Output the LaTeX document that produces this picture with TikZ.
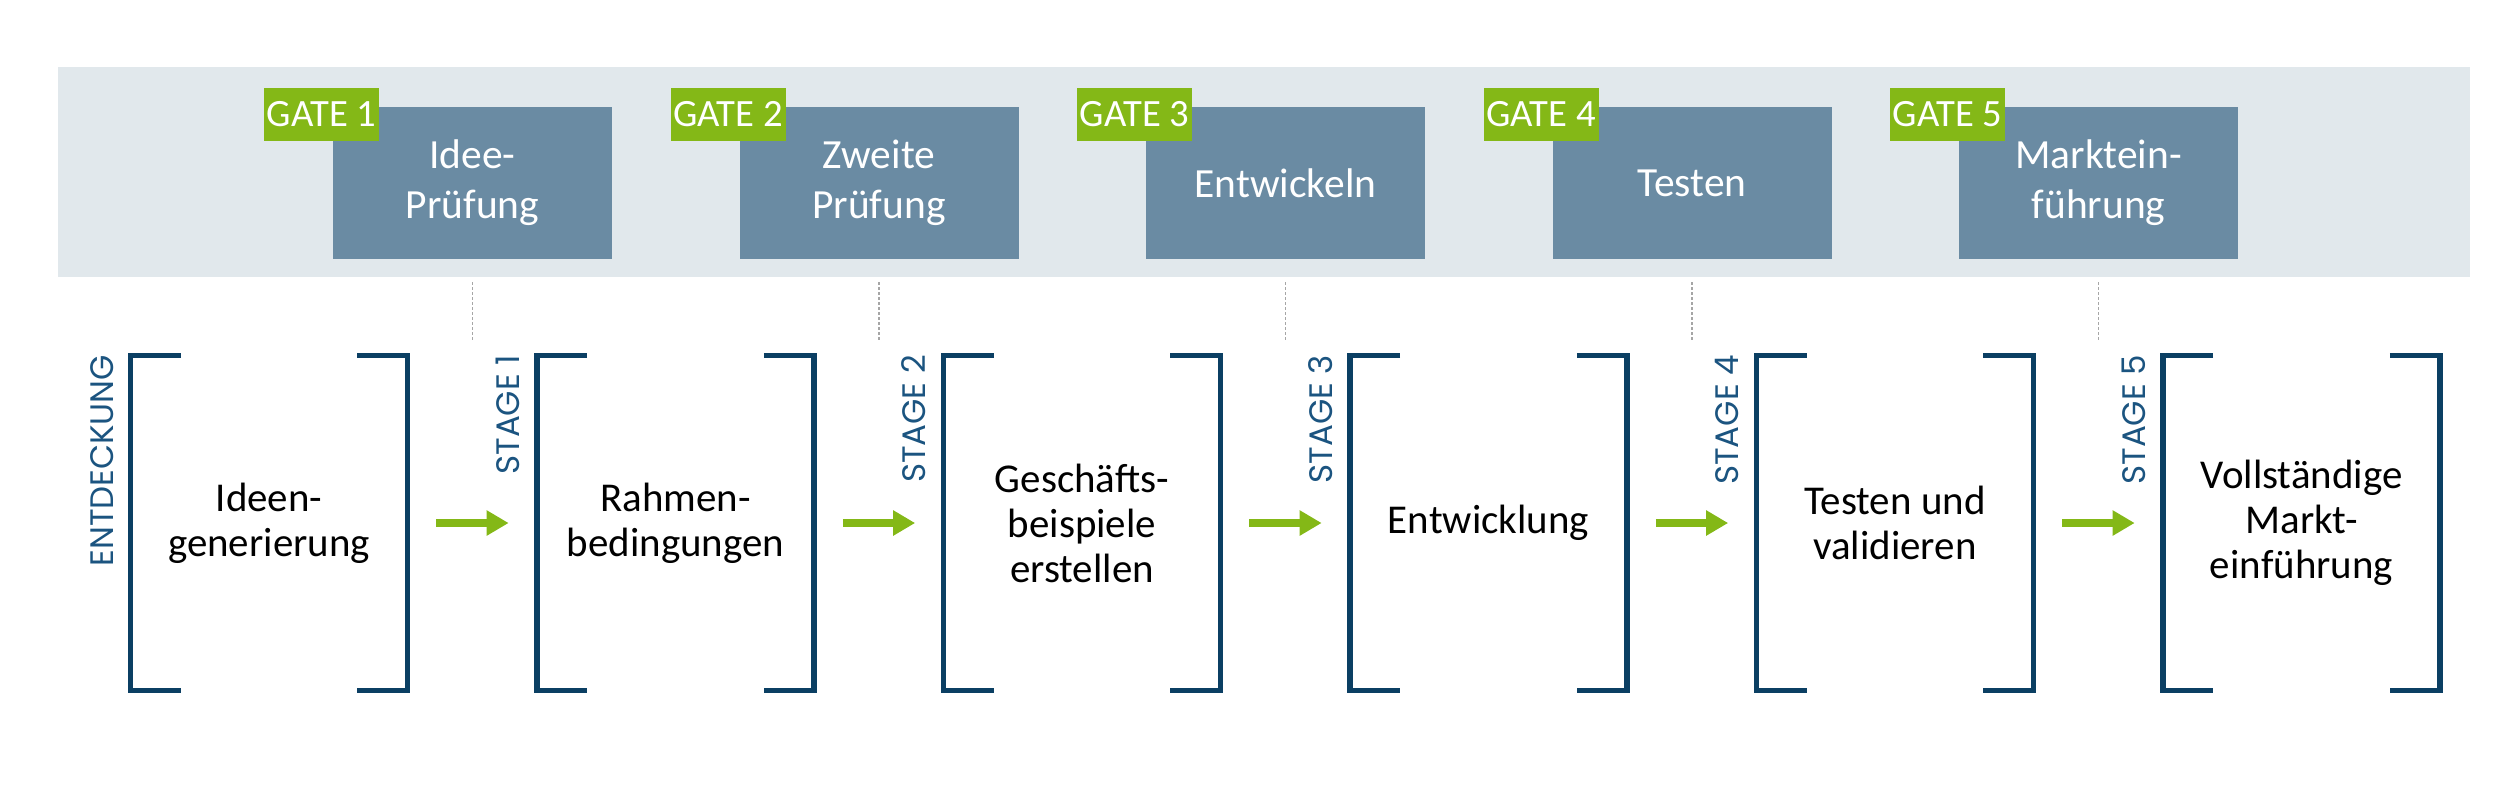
\documentclass[tikz,border=0pt]{standalone}
\usepackage{fontspec}
\setmainfont{Carlito}
\newfontfamily\vfont{Poppins}
\usetikzlibrary{arrows.meta}
\definecolor{bgray}{HTML}{E1E8EC}
\definecolor{boxblue}{HTML}{6A8BA3}
\definecolor{gategreen}{HTML}{84B817}
\definecolor{brdark}{HTML}{0B3F63}
\definecolor{vtext}{HTML}{1B5480}
\definecolor{dashgray}{HTML}{A6A6A6}
\begin{document}
\begin{tikzpicture}[x=0.2mm,y=-0.2mm,
 gatebox/.style={fill=boxblue, minimum width=55.8mm, minimum height=30.4mm, inner sep=0, text=white, align=center, font=\fontsize{23.6pt}{28.5pt}\selectfont},
 gatelab/.style={fill=gategreen, minimum width=23mm, minimum height=10.6mm, inner sep=0, text=white, anchor=north west, font=\fontsize{22pt}{24pt}\selectfont},
 stagebox/.style={minimum width=55.2mm, minimum height=66.8mm, inner sep=0, align=center, font=\fontsize{23.3pt}{25.6pt}\selectfont},
 vlab/.style={rotate=90, anchor=base east, inner sep=0, text=vtext, font=\vfont\fontsize{18.5pt}{20pt}\selectfont},
 brk/.style={draw=brdark, line width=1.1mm, line join=miter},
 arr/.style={draw=gategreen, line width=1.6mm, -{Triangle[length=4.4mm,width=4.8mm]}},
 dashline/.style={draw=dashgray, line width=0.25mm, dash pattern=on 0.6mm off 0.4mm}
]
\useasboundingbox (0,0) rectangle (2512,810);
\fill[bgray] (58,67) rectangle (2470,277);

% gates
\node[gatebox] (g1) at (472.5,183) {Idee-\\Prüfung};
\node[gatebox] (g2) at (879,183) {Zweite\\Prüfung};
\node[gatebox] (g3) at (1285.5,183) {Entwickeln};
\node[gatebox] (g4) at (1692,183) {Testen};
\node[gatebox] (g5) at (2098.5,183) {Marktein-\\führung};
\foreach \i in {1,...,5}{
  \node[gatelab] (l\i) at ([xshift=-13.8mm,yshift=3.8mm]g\i.north west) {GATE \i};
  \coordinate (d\i a) at ([yshift=-4.6mm]g\i.south);
  \coordinate (d\i b) at ([yshift=-16.4mm]g\i.south);
  \draw[dashline] (d\i a) -- (d\i b);
}

% stages
\node[stagebox] (s1) at (269,523) {Ideen-\\generierung};
\node[stagebox] (s2) at (675.5,523) {Rahmen-\\bedingungen};
\node[stagebox] (s3) at (1082,523) {Geschäfts-\\beispiele\\erstellen};
\node[stagebox] (s4) at (1488.5,523) {Entwicklung};
\node[stagebox] (s5) at (1895,523) {Testen und\\validieren};
\node[stagebox] (s6) at (2301.5,523) {Vollständige\\Markt-\\einführung};

\foreach \i in {1,...,6}{
  \draw[brk] ([xshift=10mm]s\i.north west) -- (s\i.north west) -- (s\i.south west) -- ([xshift=10mm]s\i.south west);
  \draw[brk] ([xshift=-10mm]s\i.north east) -- (s\i.north east) -- (s\i.south east) -- ([xshift=-10mm]s\i.south east);
}

\node[vlab] (v1) at ([xshift=-3.4mm,yshift=0.2mm]s1.north west) {ENTDECKUNG};
\foreach \i [evaluate=\i as \j using int(\i+1)] in {1,...,5}{
  \node[vlab] (v\j) at ([xshift=-3.6mm,yshift=0.2mm]s\j.north west) {STAGE \i};
  \draw[arr] ([xshift=5.8mm]s\i.east) -- ([xshift=-5.7mm]s\j.west);
}
\end{tikzpicture}
\end{document}
